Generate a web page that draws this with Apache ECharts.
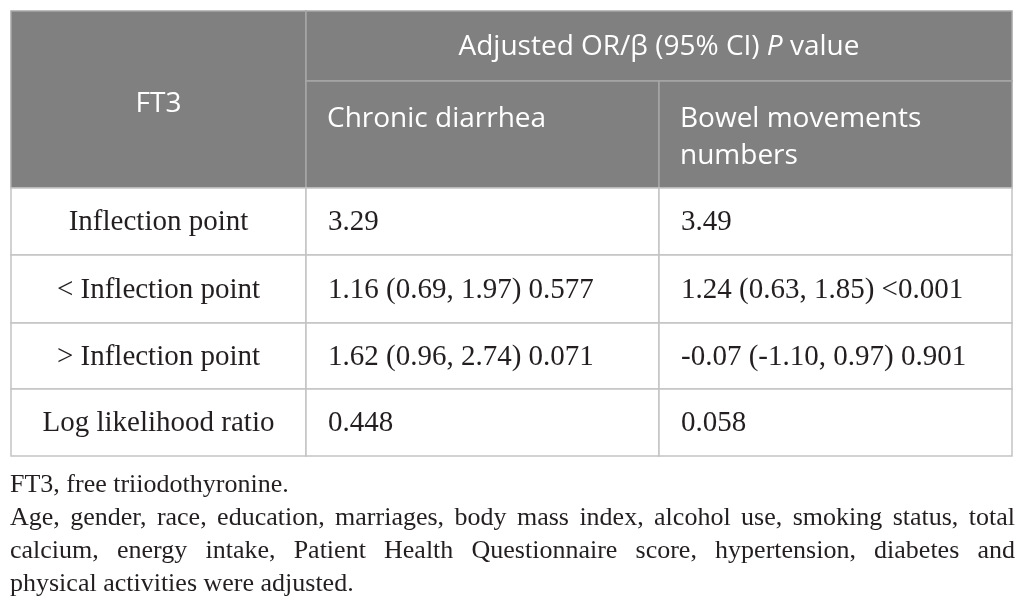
<!DOCTYPE html>
<html>
<head>
<meta charset="utf-8">
<script src="https://cdn.jsdelivr.net/npm/echarts@6/dist/echarts.min.js"></script>
<style>
  html, body { margin: 0; padding: 0; background: #fff; }
  #main { width: 1026px; height: 616px; }
</style>
</head>
<body>
<div id="main"></div>
<script>
// table content
var exposure = 'FT3';
var outcomes = ['Chronic diarrhea', 'Bowel movements\nnumbers'];
var rowLabels = ['Inflection point', '< Inflection point', '> Inflection point', 'Log likelihood ratio'];
var chronicDiarrhea = ['3.29', '1.16 (0.69, 1.97) 0.577', '1.62 (0.96, 2.74) 0.071', '0.448'];
var bowelMovements = ['3.49', '1.24 (0.63, 1.85) <0.001', '-0.07 (-1.10, 0.97) 0.901', '0.058'];
// footnote paragraphs, split into the printed lines
var footnotes = [
    ['FT3, free triiodothyronine.'],
    ['Age, gender, race, education, marriages, body mass index, alcohol use, smoking status, total',
     'calcium, energy intake, Patient Health Questionnaire score, hypertension, diabetes and',
     'physical activities were adjusted.']
];

// layout (grid units = pixels inside table)
var colEdges = [0, 295, 648, 1001];
var rowEdges = [0, 70, 177, 244, 312, 378, 445];
var headFill = '#808080';
var lineColor = '#c4c4c4';
var sansFont = '"Open Sans", sans-serif';
var serifFont = '"Liberation Serif", serif';

// cells: [col0, col1, row0, row1, text, kind]
var cells = [];
cells.push([0, 1, 0, 2, exposure, 'headCenter']);
cells.push([1, 3, 0, 1, '{n|Adjusted OR/β (95% CI) }{i|P}{n| value}', 'headCenter']);
cells.push([1, 2, 1, 2, outcomes[0], 'headLeft']);
cells.push([2, 3, 1, 2, outcomes[1], 'headLeft']);
rowLabels.forEach(function (lab, i) {
    cells.push([0, 1, i + 2, i + 3, lab, 'bodyCenter']);
    cells.push([1, 2, i + 2, i + 3, chronicDiarrhea[i], 'bodyLeft']);
    cells.push([2, 3, i + 2, i + 3, bowelMovements[i], 'bodyLeft']);
});

function renderCell(params, api) {
    var c0 = api.value(0), c1 = api.value(1), r0 = api.value(2), r1 = api.value(3);
    var kind = cells[params.dataIndex][5];
    var text = cells[params.dataIndex][4];
    var p0 = api.coord([colEdges[c0], rowEdges[r0]]);
    var p1 = api.coord([colEdges[c1], rowEdges[r1]]);
    var w = p1[0] - p0[0], h = p1[1] - p0[1];
    var isHead = kind.indexOf('head') === 0;
    var left = kind.indexOf('Left') > 0;
    var txt;
    if (isHead) {
        txt = {
            x: left ? p0[0] + 21 : p0[0] + w / 2,
            y: left ? p0[1] + 20 : p0[1] + h / 2 + (r1 - r0 > 1 ? 5 : 1),
            style: {
                text: text,
                fill: '#fff',
                font: '28px ' + sansFont,
                align: left ? 'left' : 'center',
                verticalAlign: left ? 'top' : 'middle',
                lineHeight: 37,
                rich: {
                    n: { fill: '#fff', fontSize: 28, fontFamily: sansFont },
                    i: { fill: '#fff', fontSize: 28, fontFamily: sansFont, fontStyle: 'italic' }
                }
            }
        };
    } else {
        txt = {
            x: left ? p0[0] + 22 : p0[0] + w / 2,
            y: p0[1] + h / 2 + 1,
            style: {
                text: text,
                fill: '#231f20',
                font: '29px ' + serifFont,
                align: left ? 'left' : 'center',
                verticalAlign: 'middle'
            }
        };
    }
    txt.type = 'text';
    return {
        type: 'group',
        children: [
            {
                type: 'rect',
                shape: { x: p0[0], y: p0[1], width: w, height: h },
                style: { fill: isHead ? headFill : '#fff', stroke: isHead ? '#a6a6a6' : lineColor, lineWidth: 1.5 }
            },
            txt
        ]
    };
}

// justified footnote lines, one text per word
var noteFont = '26px ' + serifFont;
var measureCtx = document.createElement('canvas').getContext('2d');
measureCtx.font = noteFont;
var noteLeft = 10, noteWidth = 1005, noteTop = 485, noteStep = 33;
var graphics = [];
var lineNo = 0;
footnotes.forEach(function (para) {
    para.forEach(function (line, li) {
        var words = line.split(' ');
        var y = noteTop + lineNo * noteStep;
        var justify = li < para.length - 1 && words.length > 1;
        var widths = words.map(function (wd) { return measureCtx.measureText(wd).width; });
        var total = widths.reduce(function (a, b) { return a + b; }, 0);
        var gap = justify ? (noteWidth - total) / (words.length - 1) : measureCtx.measureText(' ').width;
        var x = noteLeft;
        words.forEach(function (wd, k) {
            graphics.push({
                type: 'text', x: x, y: y,
                style: { text: wd, font: noteFont, fill: '#231f20', verticalAlign: 'middle' }
            });
            x += widths[k] + gap;
        });
        lineNo++;
    });
});

var myChart = echarts.init(document.getElementById('main'));
var option = {
    animation: false,
    grid: { left: 11, top: 11, width: 1001, height: 445 },
    xAxis: { type: 'value', min: 0, max: 1001, show: false },
    yAxis: { type: 'value', min: 0, max: 445, inverse: true, show: false },
    graphic: graphics,
    series: [{
        type: 'custom',
        renderItem: renderCell,
        data: cells.map(function (c) { return [c[0], c[1], c[2], c[3]]; }),
        silent: true
    }]
};
myChart.setOption(option);
</script>
</body>
</html>
